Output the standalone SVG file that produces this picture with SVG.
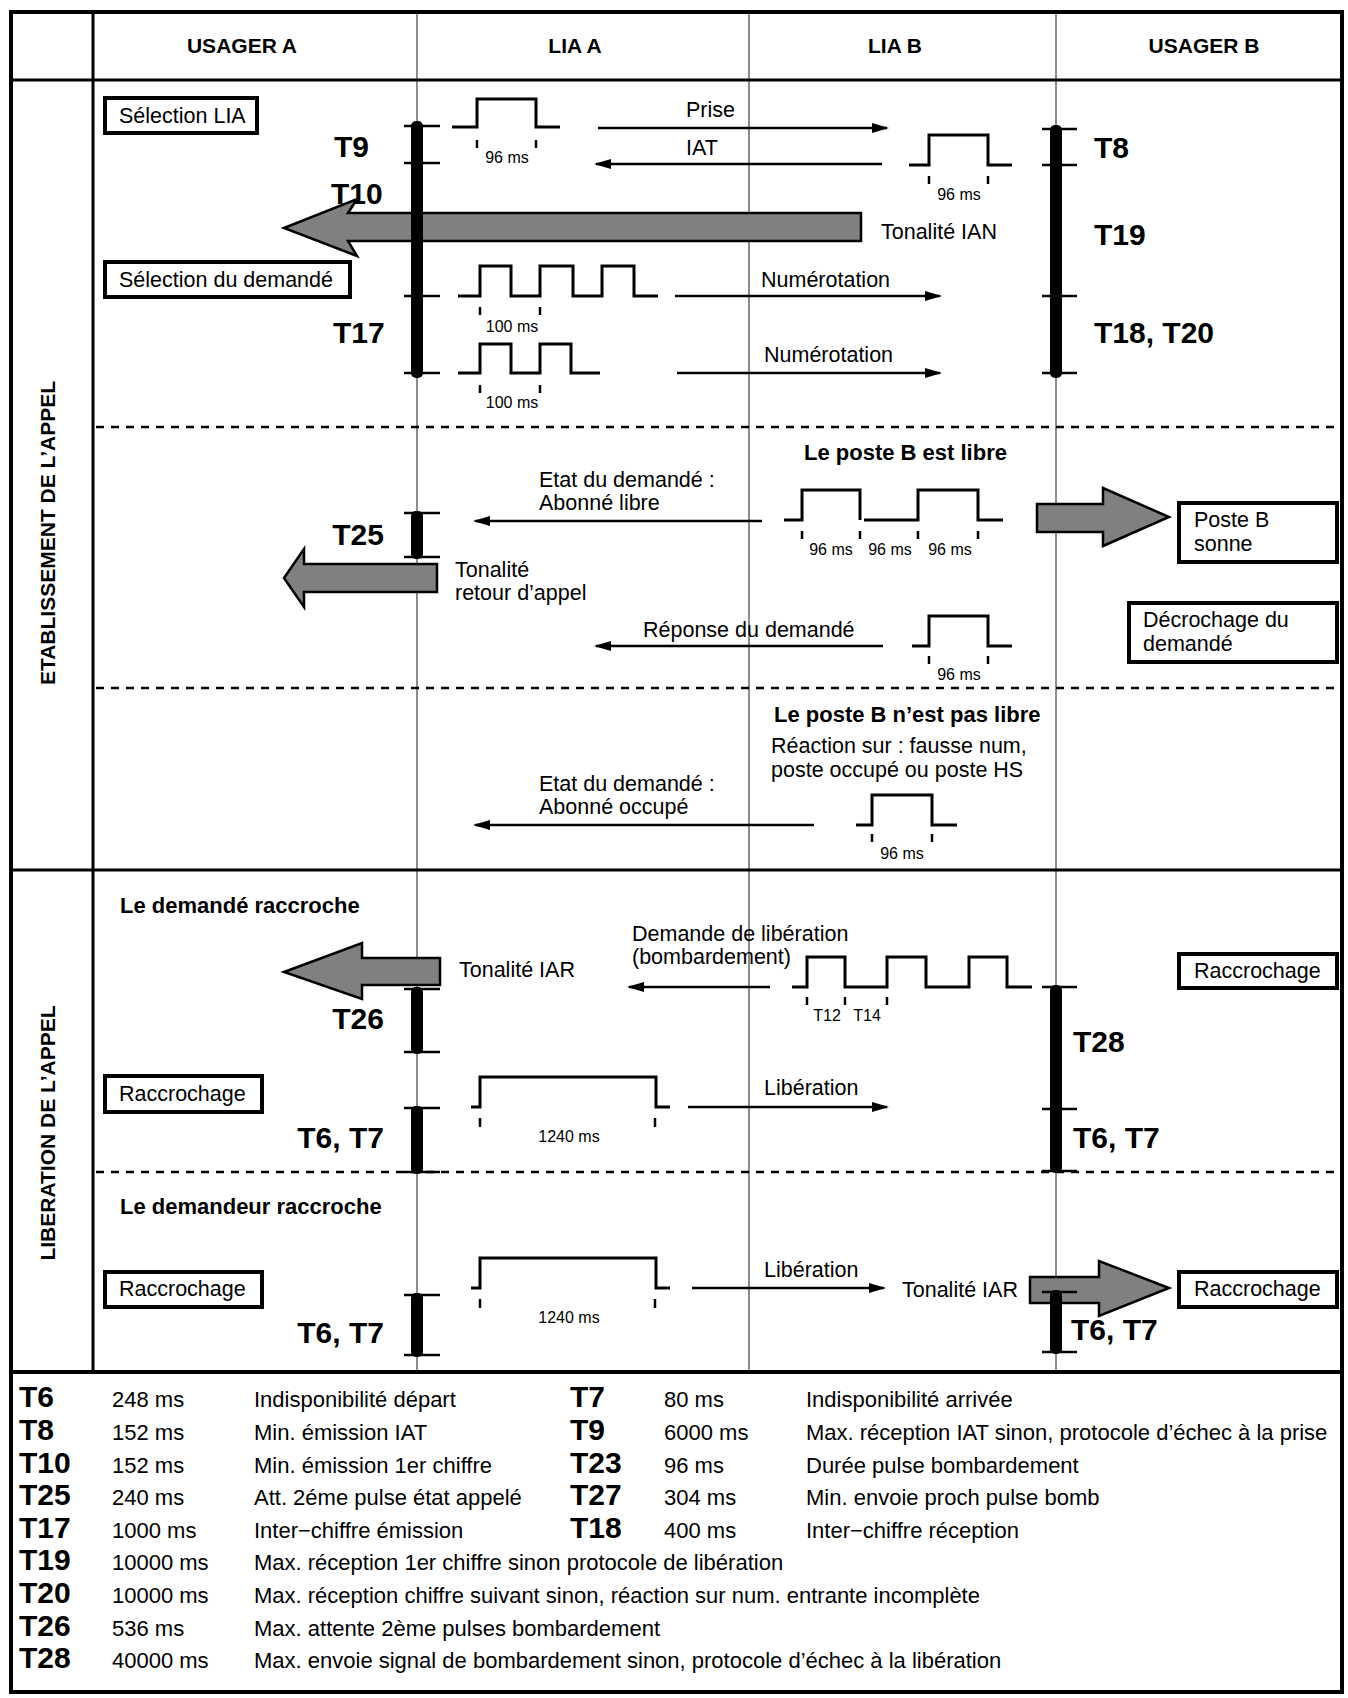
<svg xmlns="http://www.w3.org/2000/svg" width="1348" height="1698" viewBox="0 0 1348 1698">
<defs>
<style>
text{font-family:"Liberation Sans",Arial,sans-serif;fill:#000}
.t{font-size:21.5px}
.sm{font-size:16px}
.sb{font-size:22px;font-weight:bold}
.hd{font-size:21px;font-weight:bold}
.tl{font-size:30px;font-weight:bold}
.tab{font-size:22px}
.lane{stroke:#8c8c8c;stroke-width:2}
.grid{stroke:#000;stroke-width:3}
.dash{stroke:#000;stroke-width:2.5;stroke-dasharray:8 7}
.wave{fill:none;stroke:#000;stroke-width:3}
.tk{stroke:#000;stroke-width:2.5}
.msg{stroke:#000;stroke-width:2.5;marker-end:url(#ah)}
.big{fill:#808080;stroke:#000;stroke-width:2.5}
.bar{fill:#000}
.box{fill:#fff;stroke:#000;stroke-width:4}
</style>
<marker id="ah" markerUnits="userSpaceOnUse" markerWidth="18" markerHeight="12" refX="15" refY="5" orient="auto">
<path d="M0,0 L17,5 L0,10 Z" fill="#000"/>
</marker>
</defs>
<rect x="0" y="0" width="1348" height="1698" fill="#fff"/>

<g id="frame">
<line class="lane" x1="417" y1="12" x2="417" y2="1372"/>
<line class="lane" x1="749" y1="12" x2="749" y2="1372"/>
<line class="lane" x1="1056" y1="12" x2="1056" y2="1372"/>
<line class="grid" x1="93" y1="12" x2="93" y2="1372"/>
<line class="grid" x1="11" y1="80" x2="1342" y2="80"/>
<line class="grid" x1="11" y1="870" x2="1342" y2="870"/>
<line x1="11" y1="1372" x2="1342" y2="1372" stroke="#000" stroke-width="4"/>
<line class="dash" x1="96" y1="427" x2="1340" y2="427"/>
<line class="dash" x1="96" y1="688" x2="1340" y2="688"/>
<line class="dash" x1="96" y1="1172" x2="1340" y2="1172"/>
<rect x="11" y="12" width="1331" height="1680" fill="none" stroke="#000" stroke-width="4"/>
<text class="hd" x="242" y="53" text-anchor="middle">USAGER A</text>
<text class="hd" x="575" y="53" text-anchor="middle">LIA A</text>
<text class="hd" x="895" y="53" text-anchor="middle">LIA B</text>
<text class="hd" x="1204" y="53" text-anchor="middle">USAGER B</text>
<text class="hd" transform="translate(55,533) rotate(-90)" text-anchor="middle">ETABLISSEMENT DE L’APPEL</text>
<text class="hd" transform="translate(55,1133) rotate(-90)" text-anchor="middle">LIBERATION DE L’APPEL</text>
</g>

<g id="box-selection-lia"><rect class="box" x="105" y="98" width="152" height="35"/><text class="t" x="119" y="123">Sélection LIA</text></g>
<g id="box-selection-demande"><rect class="box" x="105" y="262" width="245" height="35"/><text class="t" x="119" y="287">Sélection du demandé</text></g>
<g id="box-poste-b-sonne"><rect class="box" x="1179" y="503" width="158" height="59"/><text class="t" x="1194" y="527">Poste B</text><text class="t" x="1194" y="551">sonne</text></g>
<g id="box-decrochage"><rect class="box" x="1129" y="603" width="208" height="59"/><text class="t" x="1143" y="627">Décrochage du</text><text class="t" x="1143" y="651">demandé</text></g>
<g id="box-raccrochage-a1"><rect class="box" x="105" y="1076" width="157" height="36"/><text class="t" x="119" y="1101">Raccrochage</text></g>
<g id="box-raccrochage-a2"><rect class="box" x="105" y="1272" width="157" height="35"/><text class="t" x="119" y="1296">Raccrochage</text></g>
<g id="box-raccrochage-b1"><rect class="box" x="1179" y="954" width="158" height="34"/><text class="t" x="1194" y="978">Raccrochage</text></g>
<g id="box-raccrochage-b2"><rect class="box" x="1179" y="1272" width="158" height="35"/><text class="t" x="1194" y="1296">Raccrochage</text></g>

<g id="pulses">
<path class="wave" d="M452,127 H477 V99 H536 V127 H560"/>
<line class="tk" x1="477" y1="140" x2="477" y2="148"/><line class="tk" x1="536" y1="140" x2="536" y2="148"/>
<text class="sm" x="507" y="163" text-anchor="middle">96 ms</text>
<path class="wave" d="M909,165 H929 V135 H988 V165 H1012"/>
<line class="tk" x1="929" y1="176" x2="929" y2="184"/><line class="tk" x1="988" y1="176" x2="988" y2="184"/>
<text class="sm" x="959" y="200" text-anchor="middle">96 ms</text>
<path class="wave" d="M458,296 H480 V266 H511 V296 H540 V266 H573 V296 H602 V266 H634 V296 H658"/>
<line class="tk" x1="480" y1="307" x2="480" y2="315"/><line class="tk" x1="540" y1="307" x2="540" y2="315"/>
<text class="sm" x="512" y="332" text-anchor="middle">100 ms</text>
<path class="wave" d="M458,373 H480 V344 H511 V373 H540 V344 H571 V373 H600"/>
<line class="tk" x1="480" y1="385" x2="480" y2="393"/><line class="tk" x1="540" y1="385" x2="540" y2="393"/>
<text class="sm" x="512" y="408" text-anchor="middle">100 ms</text>
<path class="wave" d="M784,520 H802 V490 H860 V520 M864,520 H918 V490 H978 V520 H1003"/>
<line class="tk" x1="802" y1="531" x2="802" y2="539"/><line class="tk" x1="860" y1="531" x2="860" y2="539"/><line class="tk" x1="918" y1="531" x2="918" y2="539"/><line class="tk" x1="978" y1="531" x2="978" y2="539"/>
<text class="sm" x="831" y="555" text-anchor="middle">96 ms</text>
<text class="sm" x="890" y="555" text-anchor="middle">96 ms</text>
<text class="sm" x="950" y="555" text-anchor="middle">96 ms</text>
<path class="wave" d="M912,646 H929 V616 H988 V646 H1012"/>
<line class="tk" x1="929" y1="656" x2="929" y2="664"/><line class="tk" x1="988" y1="656" x2="988" y2="664"/>
<text class="sm" x="959" y="680" text-anchor="middle">96 ms</text>
<path class="wave" d="M856,825 H872 V795 H932 V825 H957"/>
<line class="tk" x1="872" y1="834" x2="872" y2="842"/><line class="tk" x1="932" y1="834" x2="932" y2="842"/>
<text class="sm" x="902" y="859" text-anchor="middle">96 ms</text>
<path class="wave" d="M792,987 H807 V957 H845 V987 H887 V957 H926 V987 H969 V957 H1007 V987 H1032"/>
<line class="tk" x1="807" y1="997" x2="807" y2="1005"/><line class="tk" x1="845" y1="997" x2="845" y2="1005"/><line class="tk" x1="887" y1="997" x2="887" y2="1005"/>
<text class="sm" x="827" y="1021" text-anchor="middle">T12</text>
<text class="sm" x="867" y="1021" text-anchor="middle">T14</text>
<path class="wave" d="M471,1107 H480 V1077 H656 V1107 H670"/>
<line class="tk" x1="480" y1="1118" x2="480" y2="1127"/><line class="tk" x1="655" y1="1118" x2="655" y2="1127"/>
<text class="sm" x="569" y="1142" text-anchor="middle">1240 ms</text>
<path class="wave" d="M471,1288 H480 V1258 H656 V1288 H670"/>
<line class="tk" x1="480" y1="1299" x2="480" y2="1308"/><line class="tk" x1="655" y1="1299" x2="655" y2="1308"/>
<text class="sm" x="569" y="1323" text-anchor="middle">1240 ms</text>
</g>

<g id="labels">
<text class="tl" x="334" y="157">T9</text>
<text class="tl" x="331" y="204">T10</text>
<text class="tl" x="333" y="343">T17</text>
<text class="tl" x="1094" y="158">T8</text>
<text class="tl" x="1094" y="245">T19</text>
<text class="tl" x="1094" y="343">T18, T20</text>
<text class="tl" x="384" y="545" text-anchor="end">T25</text>
<text class="tl" x="384" y="1029" text-anchor="end">T26</text>
<text class="tl" x="384" y="1148" text-anchor="end">T6, T7</text>
<text class="tl" x="384" y="1343" text-anchor="end">T6, T7</text>
<text class="tl" x="1073" y="1052">T28</text>
<text class="tl" x="1073" y="1148">T6, T7</text>
<text class="tl" x="1071" y="1340">T6, T7</text>
<text class="t" x="686" y="117">Prise</text>
<text class="t" x="686" y="155">IAT</text>
<text class="t" x="881" y="239">Tonalité IAN</text>
<text class="t" x="761" y="287">Numérotation</text>
<text class="t" x="764" y="362">Numérotation</text>
<text class="sb" x="804" y="460">Le poste B est libre</text>
<text class="t" x="539" y="487">Etat du demandé :</text>
<text class="t" x="539" y="510">Abonné libre</text>
<text class="t" x="455" y="577">Tonalité</text>
<text class="t" x="455" y="600">retour d’appel</text>
<text class="t" x="643" y="637">Réponse du demandé</text>
<text class="sb" x="774" y="722">Le poste B n’est pas libre</text>
<text class="t" x="771" y="753">Réaction sur : fausse num,</text>
<text class="t" x="771" y="777">poste occupé ou poste HS</text>
<text class="t" x="539" y="791">Etat du demandé :</text>
<text class="t" x="539" y="814">Abonné occupé</text>
<text class="sb" x="120" y="913">Le demandé raccroche</text>
<text class="t" x="459" y="977">Tonalité IAR</text>
<text class="t" x="632" y="941">Demande de libération</text>
<text class="t" x="632" y="964">(bombardement)</text>
<text class="t" x="764" y="1095">Libération</text>
<text class="sb" x="120" y="1214">Le demandeur raccroche</text>
<text class="t" x="764" y="1277">Libération</text>
<text class="t" x="902" y="1297">Tonalité IAR</text>
</g>

<g id="connectors">
<line class="msg" x1="598" y1="128" x2="887" y2="128"/>
<line class="msg" x1="882" y1="164" x2="596" y2="164"/>
<line class="msg" x1="675" y1="296" x2="940" y2="296"/>
<line class="msg" x1="677" y1="373" x2="940" y2="373"/>
<line class="msg" x1="762" y1="521" x2="475" y2="521"/>
<line class="msg" x1="883" y1="646" x2="596" y2="646"/>
<line class="msg" x1="814" y1="825" x2="475" y2="825"/>
<line class="msg" x1="770" y1="987" x2="629" y2="987"/>
<line class="msg" x1="688" y1="1107" x2="887" y2="1107"/>
<line class="msg" x1="692" y1="1288" x2="884" y2="1288"/>
<polygon class="big" points="284,228 357,199 348,213 861,213 861,241 348,241 357,256"/>
<polygon class="big" points="284,578 304,549 304,564 437,564 437,592 304,592 304,607"/>
<polygon class="big" points="284,972 362,943 362,958 440,958 440,985 362,985 362,999"/>
<polygon class="big" points="1037,504 1103,504 1103,488 1169,517 1103,546 1103,532 1037,532"/>
<polygon class="big" points="1030,1277 1099,1277 1099,1261 1169,1288 1099,1316 1099,1303 1030,1303"/>
</g>

<g id="lifeline-a">
<rect class="bar" x="411" y="121" width="12" height="257" rx="5"/>
<line class="tk" x1="404" y1="126" x2="440" y2="126"/><line class="tk" x1="404" y1="163" x2="440" y2="163"/><line class="tk" x1="404" y1="296" x2="440" y2="296"/><line class="tk" x1="404" y1="373" x2="440" y2="373"/>
<rect class="bar" x="411" y="511" width="12" height="48" rx="5"/>
<line class="tk" x1="404" y1="513" x2="440" y2="513"/><line class="tk" x1="404" y1="557" x2="440" y2="557"/>
<rect class="bar" x="411" y="987" width="12" height="67" rx="5"/>
<line class="tk" x1="404" y1="989" x2="440" y2="989"/><line class="tk" x1="404" y1="1052" x2="440" y2="1052"/>
<rect class="bar" x="411" y="1106" width="12" height="68" rx="5"/>
<line class="tk" x1="404" y1="1108" x2="440" y2="1108"/><line class="tk" x1="404" y1="1172" x2="440" y2="1172"/>
<rect class="bar" x="411" y="1293" width="12" height="64" rx="5"/>
<line class="tk" x1="404" y1="1295" x2="440" y2="1295"/><line class="tk" x1="404" y1="1355" x2="440" y2="1355"/>
</g>

<g id="lifeline-b">
<rect class="bar" x="1050" y="125" width="12" height="253" rx="5"/>
<line class="tk" x1="1042" y1="129" x2="1077" y2="129"/><line class="tk" x1="1042" y1="165" x2="1077" y2="165"/><line class="tk" x1="1042" y1="296" x2="1077" y2="296"/><line class="tk" x1="1042" y1="373" x2="1077" y2="373"/>
<rect class="bar" x="1050" y="985" width="12" height="188" rx="5"/>
<line class="tk" x1="1042" y1="987" x2="1077" y2="987"/><line class="tk" x1="1042" y1="1109" x2="1077" y2="1109"/><line class="tk" x1="1042" y1="1171" x2="1077" y2="1171"/>
<rect class="bar" x="1050" y="1290" width="12" height="64" rx="5"/>
<line class="tk" x1="1042" y1="1292" x2="1077" y2="1292"/><line class="tk" x1="1042" y1="1352" x2="1077" y2="1352"/>
</g>

<g id="timer-table">
<text class="tl" x="19" y="1407">T6</text><text class="tab" x="112" y="1407">248 ms</text><text class="tab" x="254" y="1407">Indisponibilité départ</text>
<text class="tl" x="570" y="1407">T7</text><text class="tab" x="664" y="1407">80 ms</text><text class="tab" x="806" y="1407">Indisponibilité arrivée</text>
<text class="tl" x="19" y="1440">T8</text><text class="tab" x="112" y="1440">152 ms</text><text class="tab" x="254" y="1440">Min. émission IAT</text>
<text class="tl" x="570" y="1440">T9</text><text class="tab" x="664" y="1440">6000 ms</text><text class="tab" x="806" y="1440">Max. réception IAT sinon, protocole d’échec à la prise</text>
<text class="tl" x="19" y="1473">T10</text><text class="tab" x="112" y="1473">152 ms</text><text class="tab" x="254" y="1473">Min. émission 1er chiffre</text>
<text class="tl" x="570" y="1473">T23</text><text class="tab" x="664" y="1473">96 ms</text><text class="tab" x="806" y="1473">Durée pulse bombardement</text>
<text class="tl" x="19" y="1505">T25</text><text class="tab" x="112" y="1505">240 ms</text><text class="tab" x="254" y="1505">Att. 2éme pulse état appelé</text>
<text class="tl" x="570" y="1505">T27</text><text class="tab" x="664" y="1505">304 ms</text><text class="tab" x="806" y="1505">Min. envoie proch pulse bomb</text>
<text class="tl" x="19" y="1538">T17</text><text class="tab" x="112" y="1538">1000 ms</text><text class="tab" x="254" y="1538">Inter−chiffre émission</text>
<text class="tl" x="570" y="1538">T18</text><text class="tab" x="664" y="1538">400 ms</text><text class="tab" x="806" y="1538">Inter−chiffre réception</text>
<text class="tl" x="19" y="1570">T19</text><text class="tab" x="112" y="1570">10000 ms</text><text class="tab" x="254" y="1570">Max. réception 1er chiffre sinon protocole de libération</text>
<text class="tl" x="19" y="1603">T20</text><text class="tab" x="112" y="1603">10000 ms</text><text class="tab" x="254" y="1603">Max. réception chiffre suivant sinon, réaction sur num. entrante incomplète</text>
<text class="tl" x="19" y="1636">T26</text><text class="tab" x="112" y="1636">536 ms</text><text class="tab" x="254" y="1636">Max. attente 2ème pulses bombardement</text>
<text class="tl" x="19" y="1668">T28</text><text class="tab" x="112" y="1668">40000 ms</text><text class="tab" x="254" y="1668">Max. envoie signal de bombardement sinon, protocole d’échec à la libération</text>
</g>
</svg>
